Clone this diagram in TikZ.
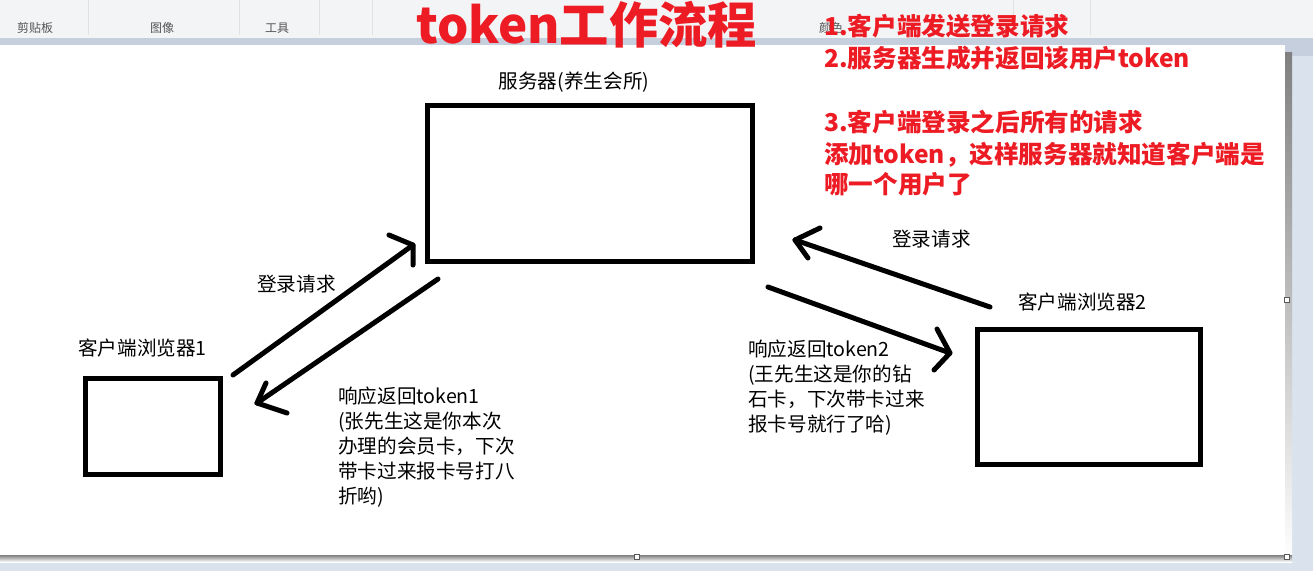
\documentclass[tikz,border=0pt]{standalone}
\usepackage{fontspec}
\setmainfont{Noto Sans CJK SC}
\definecolor{tbbg}{HTML}{F3F4F6}
\definecolor{band}{HTML}{C6CFDE}
\definecolor{outerbg}{HTML}{DAE2EE}
\definecolor{shade}{HTML}{AEBACD}
\definecolor{redtxt}{HTML}{ED1C24}
\definecolor{tbtext}{HTML}{555555}
\definecolor{tbsep}{HTML}{E0E1E4}
\begin{document}
\begin{tikzpicture}[x=1pt,y=-1pt,
  boxnode/.style={draw=black,line width=5pt,fill=white,inner sep=0pt},
  blk/.style={font=\fontsize{19.6}{25}\selectfont,inner sep=0pt,text=black},
  blkblock/.style={blk,align=left,anchor=north west},
  redline/.style={font=\bfseries\fontsize{24.6}{32}\selectfont,text=redtxt,inner sep=0pt,anchor=base west},
  tblabel/.style={font=\fontsize{12}{14}\selectfont,text=tbtext,inner sep=0pt,anchor=base},
  hand/.style={line width=5pt,line cap=round,line join=round},
  handle/.style={fill=white,draw=black!65,line width=1pt}]
\useasboundingbox (0,0) rectangle (1313,571);
% window background
\fill[outerbg] (0,0) rectangle (1313,571);
\fill[tbbg] (0,0) rectangle (1313,38);
\fill[band] (0,38) rectangle (1313,45);
\fill[band] (1285,45) rectangle (1313,56);
\fill[shade] (1285,52) rectangle (1292,562);
\fill[shade] (0,555) rectangle (1292,562);
\fill[white] (0,45) rectangle (1285,555);
% toolbar separators and labels
\foreach \sx in {88,239,319,372,1013,1090}
  \draw[tbsep,line width=1pt] (\sx,0) -- (\sx,35);
\node[tblabel] (tb1) at (35,32) {剪贴板};
\node[tblabel] (tb2) at (162,32) {图像};
\node[tblabel] (tb3) at (277,32) {工具};
\node[tblabel] (tb4) at (831,32) {颜色};
% canvas handles
\draw[handle] (1284.5,297.5) rectangle (1289.5,302.5);
\draw[handle] (1284.5,554.5) rectangle (1289.5,559.5);
\draw[handle] (634.5,554.5) rectangle (639.5,559.5);
% title
\node[font=\bfseries\fontsize{49.3}{56}\selectfont,text=redtxt,inner sep=0pt,anchor=base west] (title) at (416,43) {token工作流程};
% red explanation
\node[redline] (r1) at (824,35) {1.客户端发送登录请求};
\node[redline] (r2) at (824,67) {2.服务器生成并返回该用户token};
\node[redline] (r3) at (824,131) {3.客户端登录之后所有的请求};
\node[redline] (r4) at (824,163) {添加token，这样服务器就知道客户端是};
\node[redline] (r5) at (824,193) {哪一个用户了};
% boxes
\node[boxnode,minimum width=325pt,minimum height=156pt] (server) at (590,183.5) {};
\node[boxnode,minimum width=135pt,minimum height=96pt] (client1) at (152.5,426.5) {};
\node[boxnode,minimum width=223.5pt,minimum height=135pt] (client2) at (1089,397) {};
% box labels
\node[blk,anchor=base] (serverlbl) at (574,88) {服务器(养生会所)};
\node[blk,anchor=base west] (c1lbl) at (78,355) {客户端浏览器1};
\node[blk,anchor=base west] (c2lbl) at (1018,309) {客户端浏览器2};
% arrow coordinates
\coordinate (a1s) at (233,375); \coordinate (a1t) at (413,245);
\coordinate (a1b1) at (389,235); \coordinate (a1b2) at (413,265);
\coordinate (a2s) at (438,279); \coordinate (a2t) at (257,403);
\coordinate (a2b1) at (266,383); \coordinate (a2b2) at (287,413);
\coordinate (a3s) at (990,307); \coordinate (a3t) at (795,240);
\coordinate (a3b1) at (820,228); \coordinate (a3b2) at (808,258);
\coordinate (a4s) at (768,287); \coordinate (a4t) at (950,353);
\coordinate (a4b1) at (937,329); \coordinate (a4b2) at (934,370);
% arrows
\draw[hand] (a1s) -- (a1t);
\draw[hand] (a1b1) -- (a1t) -- (a1b2);
\draw[hand] (a2s) -- (a2t);
\draw[hand] (a2b1) -- (a2t) -- (a2b2);
\draw[hand] (a3s) -- (a3t);
\draw[hand] (a3b1) -- (a3t) -- (a3b2);
\draw[hand] (a4s) -- (a4t);
\draw[hand] (a4b1) -- (a4t) -- (a4b2);
% arrow labels
\node[blk,anchor=base west] (req1) at (257,291) {登录请求};
\node[blk,anchor=base west] (req2) at (892,246) {登录请求};
\node[blkblock] (resp1) at (338,387) {响应返回token1\\(张先生这是你本次\\办理的会员卡，下次\\带卡过来报卡号打八\\折哟)};
\node[blkblock] (resp2) at (748,340) {响应返回token2\\(王先生这是你的钻\\石卡，下次带卡过来\\报卡号就行了哈)};
\end{tikzpicture}
\end{document}
